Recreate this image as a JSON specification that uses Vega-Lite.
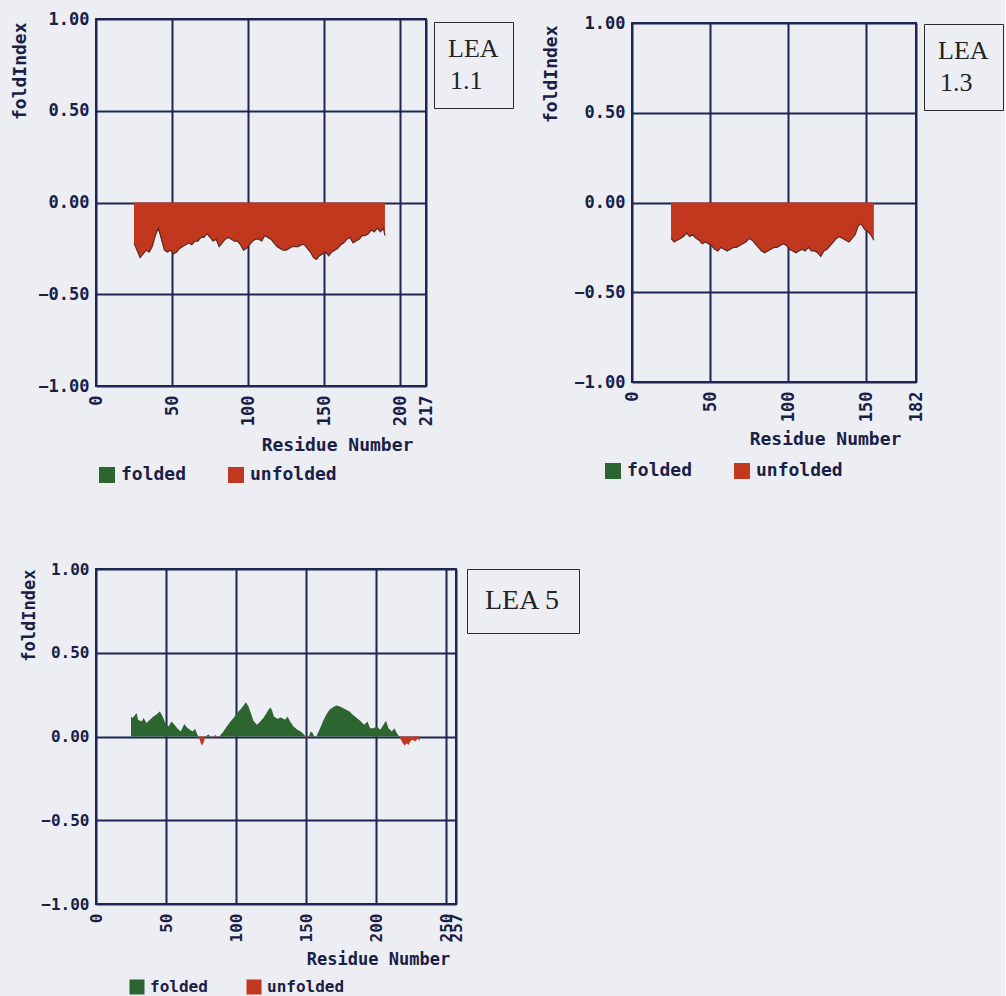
{
  "$schema": "https://vega.github.io/schema/vega-lite/v6.json",
  "padding": {"left": 10, "top": 9, "right": 0, "bottom": 0},
  "datasets": {
    "lea11": [
      {"residue": 25, "foldIndex": -0.22, "state": "unfolded"},
      {"residue": 27, "foldIndex": -0.26, "state": "unfolded"},
      {"residue": 29, "foldIndex": -0.30, "state": "unfolded"},
      {"residue": 31, "foldIndex": -0.28, "state": "unfolded"},
      {"residue": 33, "foldIndex": -0.26, "state": "unfolded"},
      {"residue": 35, "foldIndex": -0.27, "state": "unfolded"},
      {"residue": 37, "foldIndex": -0.24, "state": "unfolded"},
      {"residue": 39, "foldIndex": -0.18, "state": "unfolded"},
      {"residue": 41, "foldIndex": -0.14, "state": "unfolded"},
      {"residue": 43, "foldIndex": -0.20, "state": "unfolded"},
      {"residue": 45, "foldIndex": -0.26, "state": "unfolded"},
      {"residue": 47, "foldIndex": -0.27, "state": "unfolded"},
      {"residue": 49, "foldIndex": -0.26, "state": "unfolded"},
      {"residue": 51, "foldIndex": -0.28, "state": "unfolded"},
      {"residue": 53, "foldIndex": -0.27, "state": "unfolded"},
      {"residue": 55, "foldIndex": -0.25, "state": "unfolded"},
      {"residue": 57, "foldIndex": -0.24, "state": "unfolded"},
      {"residue": 59, "foldIndex": -0.23, "state": "unfolded"},
      {"residue": 61, "foldIndex": -0.22, "state": "unfolded"},
      {"residue": 63, "foldIndex": -0.23, "state": "unfolded"},
      {"residue": 65, "foldIndex": -0.21, "state": "unfolded"},
      {"residue": 67, "foldIndex": -0.21, "state": "unfolded"},
      {"residue": 69, "foldIndex": -0.19, "state": "unfolded"},
      {"residue": 71, "foldIndex": -0.19, "state": "unfolded"},
      {"residue": 73, "foldIndex": -0.17, "state": "unfolded"},
      {"residue": 75, "foldIndex": -0.19, "state": "unfolded"},
      {"residue": 77, "foldIndex": -0.21, "state": "unfolded"},
      {"residue": 79, "foldIndex": -0.20, "state": "unfolded"},
      {"residue": 81, "foldIndex": -0.24, "state": "unfolded"},
      {"residue": 83, "foldIndex": -0.22, "state": "unfolded"},
      {"residue": 85, "foldIndex": -0.20, "state": "unfolded"},
      {"residue": 87, "foldIndex": -0.19, "state": "unfolded"},
      {"residue": 89, "foldIndex": -0.20, "state": "unfolded"},
      {"residue": 91, "foldIndex": -0.21, "state": "unfolded"},
      {"residue": 93, "foldIndex": -0.21, "state": "unfolded"},
      {"residue": 95, "foldIndex": -0.23, "state": "unfolded"},
      {"residue": 97, "foldIndex": -0.26, "state": "unfolded"},
      {"residue": 99, "foldIndex": -0.25, "state": "unfolded"},
      {"residue": 101, "foldIndex": -0.23, "state": "unfolded"},
      {"residue": 103, "foldIndex": -0.21, "state": "unfolded"},
      {"residue": 105, "foldIndex": -0.20, "state": "unfolded"},
      {"residue": 107, "foldIndex": -0.20, "state": "unfolded"},
      {"residue": 109, "foldIndex": -0.21, "state": "unfolded"},
      {"residue": 111, "foldIndex": -0.18, "state": "unfolded"},
      {"residue": 113, "foldIndex": -0.19, "state": "unfolded"},
      {"residue": 115, "foldIndex": -0.20, "state": "unfolded"},
      {"residue": 117, "foldIndex": -0.22, "state": "unfolded"},
      {"residue": 119, "foldIndex": -0.24, "state": "unfolded"},
      {"residue": 121, "foldIndex": -0.25, "state": "unfolded"},
      {"residue": 123, "foldIndex": -0.26, "state": "unfolded"},
      {"residue": 125, "foldIndex": -0.26, "state": "unfolded"},
      {"residue": 127, "foldIndex": -0.25, "state": "unfolded"},
      {"residue": 129, "foldIndex": -0.24, "state": "unfolded"},
      {"residue": 131, "foldIndex": -0.24, "state": "unfolded"},
      {"residue": 133, "foldIndex": -0.24, "state": "unfolded"},
      {"residue": 135, "foldIndex": -0.23, "state": "unfolded"},
      {"residue": 137, "foldIndex": -0.23, "state": "unfolded"},
      {"residue": 139, "foldIndex": -0.25, "state": "unfolded"},
      {"residue": 141, "foldIndex": -0.27, "state": "unfolded"},
      {"residue": 143, "foldIndex": -0.30, "state": "unfolded"},
      {"residue": 145, "foldIndex": -0.31, "state": "unfolded"},
      {"residue": 147, "foldIndex": -0.29, "state": "unfolded"},
      {"residue": 149, "foldIndex": -0.28, "state": "unfolded"},
      {"residue": 151, "foldIndex": -0.27, "state": "unfolded"},
      {"residue": 153, "foldIndex": -0.29, "state": "unfolded"},
      {"residue": 155, "foldIndex": -0.27, "state": "unfolded"},
      {"residue": 157, "foldIndex": -0.26, "state": "unfolded"},
      {"residue": 159, "foldIndex": -0.25, "state": "unfolded"},
      {"residue": 161, "foldIndex": -0.23, "state": "unfolded"},
      {"residue": 163, "foldIndex": -0.22, "state": "unfolded"},
      {"residue": 165, "foldIndex": -0.20, "state": "unfolded"},
      {"residue": 167, "foldIndex": -0.19, "state": "unfolded"},
      {"residue": 169, "foldIndex": -0.22, "state": "unfolded"},
      {"residue": 171, "foldIndex": -0.21, "state": "unfolded"},
      {"residue": 173, "foldIndex": -0.20, "state": "unfolded"},
      {"residue": 175, "foldIndex": -0.18, "state": "unfolded"},
      {"residue": 177, "foldIndex": -0.18, "state": "unfolded"},
      {"residue": 179, "foldIndex": -0.17, "state": "unfolded"},
      {"residue": 181, "foldIndex": -0.15, "state": "unfolded"},
      {"residue": 183, "foldIndex": -0.16, "state": "unfolded"},
      {"residue": 185, "foldIndex": -0.14, "state": "unfolded"},
      {"residue": 187, "foldIndex": -0.16, "state": "unfolded"},
      {"residue": 189, "foldIndex": -0.14, "state": "unfolded"},
      {"residue": 190, "foldIndex": -0.18, "state": "unfolded"}
    ],
    "lea13": [
      {"residue": 25, "foldIndex": -0.20, "state": "unfolded"},
      {"residue": 27, "foldIndex": -0.22, "state": "unfolded"},
      {"residue": 29, "foldIndex": -0.21, "state": "unfolded"},
      {"residue": 31, "foldIndex": -0.20, "state": "unfolded"},
      {"residue": 33, "foldIndex": -0.19, "state": "unfolded"},
      {"residue": 35, "foldIndex": -0.17, "state": "unfolded"},
      {"residue": 37, "foldIndex": -0.19, "state": "unfolded"},
      {"residue": 39, "foldIndex": -0.18, "state": "unfolded"},
      {"residue": 41, "foldIndex": -0.20, "state": "unfolded"},
      {"residue": 43, "foldIndex": -0.21, "state": "unfolded"},
      {"residue": 45, "foldIndex": -0.23, "state": "unfolded"},
      {"residue": 47, "foldIndex": -0.22, "state": "unfolded"},
      {"residue": 49, "foldIndex": -0.23, "state": "unfolded"},
      {"residue": 51, "foldIndex": -0.24, "state": "unfolded"},
      {"residue": 53, "foldIndex": -0.26, "state": "unfolded"},
      {"residue": 55, "foldIndex": -0.27, "state": "unfolded"},
      {"residue": 57, "foldIndex": -0.25, "state": "unfolded"},
      {"residue": 59, "foldIndex": -0.26, "state": "unfolded"},
      {"residue": 61, "foldIndex": -0.27, "state": "unfolded"},
      {"residue": 63, "foldIndex": -0.26, "state": "unfolded"},
      {"residue": 65, "foldIndex": -0.25, "state": "unfolded"},
      {"residue": 67, "foldIndex": -0.25, "state": "unfolded"},
      {"residue": 69, "foldIndex": -0.24, "state": "unfolded"},
      {"residue": 71, "foldIndex": -0.23, "state": "unfolded"},
      {"residue": 73, "foldIndex": -0.22, "state": "unfolded"},
      {"residue": 75, "foldIndex": -0.20, "state": "unfolded"},
      {"residue": 77, "foldIndex": -0.21, "state": "unfolded"},
      {"residue": 79, "foldIndex": -0.23, "state": "unfolded"},
      {"residue": 81, "foldIndex": -0.25, "state": "unfolded"},
      {"residue": 83, "foldIndex": -0.27, "state": "unfolded"},
      {"residue": 85, "foldIndex": -0.28, "state": "unfolded"},
      {"residue": 87, "foldIndex": -0.27, "state": "unfolded"},
      {"residue": 89, "foldIndex": -0.26, "state": "unfolded"},
      {"residue": 91, "foldIndex": -0.25, "state": "unfolded"},
      {"residue": 93, "foldIndex": -0.25, "state": "unfolded"},
      {"residue": 95, "foldIndex": -0.24, "state": "unfolded"},
      {"residue": 97, "foldIndex": -0.23, "state": "unfolded"},
      {"residue": 99, "foldIndex": -0.24, "state": "unfolded"},
      {"residue": 101, "foldIndex": -0.26, "state": "unfolded"},
      {"residue": 103, "foldIndex": -0.27, "state": "unfolded"},
      {"residue": 105, "foldIndex": -0.28, "state": "unfolded"},
      {"residue": 107, "foldIndex": -0.27, "state": "unfolded"},
      {"residue": 109, "foldIndex": -0.26, "state": "unfolded"},
      {"residue": 111, "foldIndex": -0.27, "state": "unfolded"},
      {"residue": 113, "foldIndex": -0.25, "state": "unfolded"},
      {"residue": 115, "foldIndex": -0.27, "state": "unfolded"},
      {"residue": 117, "foldIndex": -0.27, "state": "unfolded"},
      {"residue": 119, "foldIndex": -0.28, "state": "unfolded"},
      {"residue": 121, "foldIndex": -0.30, "state": "unfolded"},
      {"residue": 123, "foldIndex": -0.27, "state": "unfolded"},
      {"residue": 125, "foldIndex": -0.26, "state": "unfolded"},
      {"residue": 127, "foldIndex": -0.24, "state": "unfolded"},
      {"residue": 129, "foldIndex": -0.22, "state": "unfolded"},
      {"residue": 131, "foldIndex": -0.20, "state": "unfolded"},
      {"residue": 133, "foldIndex": -0.19, "state": "unfolded"},
      {"residue": 135, "foldIndex": -0.20, "state": "unfolded"},
      {"residue": 137, "foldIndex": -0.21, "state": "unfolded"},
      {"residue": 139, "foldIndex": -0.22, "state": "unfolded"},
      {"residue": 141, "foldIndex": -0.20, "state": "unfolded"},
      {"residue": 143, "foldIndex": -0.18, "state": "unfolded"},
      {"residue": 145, "foldIndex": -0.13, "state": "unfolded"},
      {"residue": 147, "foldIndex": -0.12, "state": "unfolded"},
      {"residue": 149, "foldIndex": -0.15, "state": "unfolded"},
      {"residue": 151, "foldIndex": -0.16, "state": "unfolded"},
      {"residue": 153, "foldIndex": -0.18, "state": "unfolded"},
      {"residue": 155, "foldIndex": -0.21, "state": "unfolded"}
    ],
    "lea5": [
      {"residue": 25, "foldIndex": 0.12, "state": "folded"},
      {"residue": 26, "foldIndex": 0.11, "state": "folded"},
      {"residue": 28, "foldIndex": 0.13, "state": "folded"},
      {"residue": 29, "foldIndex": 0.14, "state": "folded"},
      {"residue": 30, "foldIndex": 0.10, "state": "folded"},
      {"residue": 32.6, "foldIndex": 0.09, "state": "folded"},
      {"residue": 34, "foldIndex": 0.11, "state": "folded"},
      {"residue": 36, "foldIndex": 0.08, "state": "folded"},
      {"residue": 38.5, "foldIndex": 0.10, "state": "folded"},
      {"residue": 41, "foldIndex": 0.12, "state": "folded"},
      {"residue": 43, "foldIndex": 0.13, "state": "folded"},
      {"residue": 45.5, "foldIndex": 0.15, "state": "folded"},
      {"residue": 47, "foldIndex": 0.13, "state": "folded"},
      {"residue": 48, "foldIndex": 0.11, "state": "folded"},
      {"residue": 50, "foldIndex": 0.07, "state": "folded"},
      {"residue": 51.7, "foldIndex": 0.06, "state": "folded"},
      {"residue": 54, "foldIndex": 0.09, "state": "folded"},
      {"residue": 56, "foldIndex": 0.07, "state": "folded"},
      {"residue": 58, "foldIndex": 0.05, "state": "folded"},
      {"residue": 60.5, "foldIndex": 0.03, "state": "folded"},
      {"residue": 63, "foldIndex": 0.074, "state": "folded"},
      {"residue": 65, "foldIndex": 0.054, "state": "folded"},
      {"residue": 67, "foldIndex": 0.04, "state": "folded"},
      {"residue": 69, "foldIndex": 0.03, "state": "folded"},
      {"residue": 70.7, "foldIndex": 0.046, "state": "folded"},
      {"residue": 72.4, "foldIndex": 0.01, "state": "folded"},
      {"residue": 73.3, "foldIndex": 0, "state": "folded"},
      {"residue": 73.3, "foldIndex": 0, "state": "unfolded"},
      {"residue": 74.8, "foldIndex": -0.04, "state": "unfolded"},
      {"residue": 75.7, "foldIndex": -0.054, "state": "unfolded"},
      {"residue": 77.1, "foldIndex": -0.03, "state": "unfolded"},
      {"residue": 78.1, "foldIndex": 0, "state": "unfolded"},
      {"residue": 78.1, "foldIndex": 0, "state": "folded"},
      {"residue": 80.2, "foldIndex": 0.012, "state": "folded"},
      {"residue": 81.9, "foldIndex": 0, "state": "folded"},
      {"residue": 81.9, "foldIndex": 0, "state": "unfolded"},
      {"residue": 83.3, "foldIndex": -0.012, "state": "unfolded"},
      {"residue": 84.2, "foldIndex": 0, "state": "unfolded"},
      {"residue": 84.2, "foldIndex": 0, "state": "folded"},
      {"residue": 85, "foldIndex": 0.01, "state": "folded"},
      {"residue": 86, "foldIndex": 0, "state": "folded"},
      {"residue": 86, "foldIndex": 0, "state": "unfolded"},
      {"residue": 86.7, "foldIndex": -0.008, "state": "unfolded"},
      {"residue": 88, "foldIndex": 0, "state": "unfolded"},
      {"residue": 88, "foldIndex": 0, "state": "folded"},
      {"residue": 91, "foldIndex": 0.03, "state": "folded"},
      {"residue": 93.3, "foldIndex": 0.06, "state": "folded"},
      {"residue": 96, "foldIndex": 0.09, "state": "folded"},
      {"residue": 99, "foldIndex": 0.12, "state": "folded"},
      {"residue": 101.7, "foldIndex": 0.15, "state": "folded"},
      {"residue": 104, "foldIndex": 0.17, "state": "folded"},
      {"residue": 105.7, "foldIndex": 0.19, "state": "folded"},
      {"residue": 107, "foldIndex": 0.205, "state": "folded"},
      {"residue": 108.8, "foldIndex": 0.18, "state": "folded"},
      {"residue": 110.5, "foldIndex": 0.14, "state": "folded"},
      {"residue": 112.4, "foldIndex": 0.094, "state": "folded"},
      {"residue": 114.8, "foldIndex": 0.07, "state": "folded"},
      {"residue": 117, "foldIndex": 0.086, "state": "folded"},
      {"residue": 119.5, "foldIndex": 0.11, "state": "folded"},
      {"residue": 122.4, "foldIndex": 0.15, "state": "folded"},
      {"residue": 124.3, "foldIndex": 0.173, "state": "folded"},
      {"residue": 125.5, "foldIndex": 0.16, "state": "folded"},
      {"residue": 127, "foldIndex": 0.12, "state": "folded"},
      {"residue": 129.5, "foldIndex": 0.106, "state": "folded"},
      {"residue": 132, "foldIndex": 0.114, "state": "folded"},
      {"residue": 135, "foldIndex": 0.10, "state": "folded"},
      {"residue": 136.7, "foldIndex": 0.12, "state": "folded"},
      {"residue": 138.6, "foldIndex": 0.09, "state": "folded"},
      {"residue": 141, "foldIndex": 0.06, "state": "folded"},
      {"residue": 143.8, "foldIndex": 0.04, "state": "folded"},
      {"residue": 146.2, "foldIndex": 0.03, "state": "folded"},
      {"residue": 148.6, "foldIndex": 0.01, "state": "folded"},
      {"residue": 149.5, "foldIndex": 0, "state": "folded"},
      {"residue": 149.5, "foldIndex": 0, "state": "unfolded"},
      {"residue": 150.5, "foldIndex": -0.012, "state": "unfolded"},
      {"residue": 151.9, "foldIndex": 0, "state": "unfolded"},
      {"residue": 151.9, "foldIndex": 0, "state": "folded"},
      {"residue": 153.3, "foldIndex": 0.03, "state": "folded"},
      {"residue": 154.8, "foldIndex": 0.02, "state": "folded"},
      {"residue": 155.8, "foldIndex": 0, "state": "folded"},
      {"residue": 155.8, "foldIndex": 0, "state": "unfolded"},
      {"residue": 156.4, "foldIndex": -0.008, "state": "unfolded"},
      {"residue": 157.2, "foldIndex": 0, "state": "unfolded"},
      {"residue": 157.2, "foldIndex": 0, "state": "folded"},
      {"residue": 159.5, "foldIndex": 0.04, "state": "folded"},
      {"residue": 162, "foldIndex": 0.09, "state": "folded"},
      {"residue": 164.3, "foldIndex": 0.13, "state": "folded"},
      {"residue": 166.7, "foldIndex": 0.16, "state": "folded"},
      {"residue": 169, "foldIndex": 0.173, "state": "folded"},
      {"residue": 171.4, "foldIndex": 0.185, "state": "folded"},
      {"residue": 173.8, "foldIndex": 0.18, "state": "folded"},
      {"residue": 176.2, "foldIndex": 0.17, "state": "folded"},
      {"residue": 178.6, "foldIndex": 0.16, "state": "folded"},
      {"residue": 181, "foldIndex": 0.15, "state": "folded"},
      {"residue": 183.3, "foldIndex": 0.13, "state": "folded"},
      {"residue": 185.7, "foldIndex": 0.114, "state": "folded"},
      {"residue": 188.6, "foldIndex": 0.094, "state": "folded"},
      {"residue": 191.4, "foldIndex": 0.07, "state": "folded"},
      {"residue": 193.8, "foldIndex": 0.09, "state": "folded"},
      {"residue": 195.7, "foldIndex": 0.05, "state": "folded"},
      {"residue": 198, "foldIndex": 0.05, "state": "folded"},
      {"residue": 200.5, "foldIndex": 0.06, "state": "folded"},
      {"residue": 203, "foldIndex": 0.04, "state": "folded"},
      {"residue": 205.2, "foldIndex": 0.07, "state": "folded"},
      {"residue": 207, "foldIndex": 0.094, "state": "folded"},
      {"residue": 208.8, "foldIndex": 0.05, "state": "folded"},
      {"residue": 211.2, "foldIndex": 0.03, "state": "folded"},
      {"residue": 213, "foldIndex": 0.05, "state": "folded"},
      {"residue": 214.8, "foldIndex": 0.02, "state": "folded"},
      {"residue": 216.5, "foldIndex": 0, "state": "folded"},
      {"residue": 216.5, "foldIndex": 0, "state": "unfolded"},
      {"residue": 218.3, "foldIndex": -0.03, "state": "unfolded"},
      {"residue": 220.2, "foldIndex": -0.054, "state": "unfolded"},
      {"residue": 222, "foldIndex": -0.04, "state": "unfolded"},
      {"residue": 223, "foldIndex": -0.05, "state": "unfolded"},
      {"residue": 224.8, "foldIndex": -0.026, "state": "unfolded"},
      {"residue": 226.2, "foldIndex": -0.02, "state": "unfolded"},
      {"residue": 228, "foldIndex": -0.03, "state": "unfolded"},
      {"residue": 229.5, "foldIndex": -0.014, "state": "unfolded"},
      {"residue": 231, "foldIndex": -0.026, "state": "unfolded"}
    ]
  },
  "columns": 2,
  "concat": [
    {
      "width": 330,
      "height": 367,
      "data": {"name": "lea11"},
      "layer": [
        {
          "mark": {"type": "area"},
          "encoding": {
            "x": {"field": "residue", "type": "quantitative", "scale": {"domain": [0, 217], "nice": false, "zero": false},
              "axis": {"values": [0, 50, 100, 150, 200, 217], "format": "d", "labelAngle": 270, "labelFontSize": 17, "labelPadding": 9,
                "title": "Residue Number", "titleFontSize": 18, "titleX": 241, "titleY": 59, "titleAlign": "center", "titleBaseline": "middle"}},
            "y": {"field": "foldIndex", "type": "quantitative", "stack": null, "scale": {"domain": [-1, 1], "nice": false},
              "axis": {"values": [-1, -0.5, 0, 0.5, 1], "format": ".2f", "labelFontSize": 17, "labelPadding": 7,
                "title": "foldIndex", "titleFontSize": 18, "titleX": -76, "titleY": 3, "titleAlign": "right", "titleBaseline": "middle", "titleAngle": 270}},
            "y2": {"datum": 0},
            "color": {"field": "state", "type": "nominal",
              "scale": {"domain": ["folded", "unfolded"], "range": ["#2d6530", "#c2381f"]},
              "legend": {"orient": "none", "legendX": 2, "legendY": 447, "direction": "horizontal", "title": null, "padding": 0,
                "symbolType": "square", "symbolSize": 256, "symbolStrokeWidth": 0, "labelFont": "DejaVu Sans Mono", "labelFontWeight": "bold",
                "labelFontSize": 18, "labelColor": "#1a2045", "labelOffset": 5, "columnPadding": 40}}
          }
        },
        {
          "mark": {"type": "line", "color": "#5a2a24", "strokeWidth": 1.2},
          "encoding": {
            "x": {"field": "residue", "type": "quantitative"},
            "y": {"field": "foldIndex", "type": "quantitative"}
          }
        },
        {
          "data": {"values": [{"protein": "1.1"}]},
          "mark": {"type": "point", "opacity": 0},
          "encoding": {
            "shape": {"field": "protein", "type": "nominal",
              "legend": {"orient": "none", "legendX": 338, "legendY": 3, "title": "LEA", "padding": 14, "strokeColor": "#2a2a2a",
                "titleFont": "Liberation Serif", "titleFontSize": 26, "titleFontWeight": "normal", "titleColor": "#222222", "titlePadding": 6,
                "labelFont": "Liberation Serif", "labelFontSize": 26, "labelColor": "#222222", "labelOffset": -24,
                "symbolSize": 0, "symbolOpacity": 0, "symbolStrokeWidth": 0}}
          }
        }
      ]
    },
    {
      "width": 284,
      "height": 359,
      "data": {"name": "lea13"},
      "layer": [
        {
          "mark": {"type": "area"},
          "encoding": {
            "x": {"field": "residue", "type": "quantitative", "scale": {"domain": [0, 182], "nice": false, "zero": false},
              "axis": {"values": [0, 50, 100, 150, 182], "format": "d", "labelAngle": 270, "labelFontSize": 17, "labelPadding": 9,
                "title": "Residue Number", "titleFontSize": 18, "titleX": 193, "titleY": 57, "titleAlign": "center", "titleBaseline": "middle"}},
            "y": {"field": "foldIndex", "type": "quantitative", "stack": null, "scale": {"domain": [-1, 1], "nice": false},
              "axis": {"values": [-1, -0.5, 0, 0.5, 1], "format": ".2f", "labelFontSize": 17, "labelPadding": 7,
                "title": "foldIndex", "titleFontSize": 18, "titleX": -81, "titleY": 2, "titleAlign": "right", "titleBaseline": "middle", "titleAngle": 270}},
            "y2": {"datum": 0},
            "color": {"field": "state", "type": "nominal",
              "scale": {"domain": ["folded", "unfolded"], "range": ["#2d6530", "#c2381f"]},
              "legend": {"orient": "none", "legendX": -28, "legendY": 439, "direction": "horizontal", "title": null, "padding": 0,
                "symbolType": "square", "symbolSize": 256, "symbolStrokeWidth": 0, "labelFont": "DejaVu Sans Mono", "labelFontWeight": "bold",
                "labelFontSize": 18, "labelColor": "#1a2045", "labelOffset": 5, "columnPadding": 40}}
          }
        },
        {
          "mark": {"type": "line", "color": "#5a2a24", "strokeWidth": 1.2},
          "encoding": {
            "x": {"field": "residue", "type": "quantitative"},
            "y": {"field": "foldIndex", "type": "quantitative"}
          }
        },
        {
          "data": {"values": [{"protein": "1.3"}]},
          "mark": {"type": "point", "opacity": 0},
          "encoding": {
            "shape": {"field": "protein", "type": "nominal",
              "legend": {"orient": "none", "legendX": 292, "legendY": 1, "title": "LEA", "padding": 14, "strokeColor": "#2a2a2a",
                "titleFont": "Liberation Serif", "titleFontSize": 26, "titleFontWeight": "normal", "titleColor": "#222222", "titlePadding": 6,
                "labelFont": "Liberation Serif", "labelFontSize": 26, "labelColor": "#222222", "labelOffset": -24,
                "symbolSize": 0, "symbolOpacity": 0, "symbolStrokeWidth": 0}}
          }
        }
      ]
    },
    {
      "width": 360,
      "height": 335,
      "data": {"name": "lea5"},
      "layer": [
        {
          "mark": {"type": "area"},
          "encoding": {
            "x": {"field": "residue", "type": "quantitative", "scale": {"domain": [0, 257], "nice": false, "zero": false},
              "axis": {"values": [0, 50, 100, 150, 200, 250, 257], "format": "d", "labelAngle": 270, "labelFontSize": 16, "labelPadding": 9,
                "title": "Residue Number", "titleFontSize": 17, "titleX": 282, "titleY": 55, "titleAlign": "center", "titleBaseline": "middle"}},
            "y": {"field": "foldIndex", "type": "quantitative", "stack": null, "scale": {"domain": [-1, 1], "nice": false},
              "axis": {"values": [-1, -0.5, 0, 0.5, 1], "format": ".2f", "labelFontSize": 16, "labelPadding": 7,
                "title": "foldIndex", "titleFontSize": 17, "titleX": -67, "titleY": 0, "titleAlign": "right", "titleBaseline": "middle", "titleAngle": 270}},
            "y2": {"datum": 0},
            "color": {"field": "state", "type": "nominal",
              "scale": {"domain": ["folded", "unfolded"], "range": ["#2d6530", "#c2381f"]},
              "legend": {"orient": "none", "legendX": 33, "legendY": 410, "direction": "horizontal", "title": null, "padding": 0,
                "symbolType": "square", "symbolSize": 225, "symbolStrokeWidth": 0, "labelFont": "DejaVu Sans Mono", "labelFontWeight": "bold",
                "labelFontSize": 16, "labelColor": "#1a2045", "labelOffset": 5, "columnPadding": 38}}
          }
        },
        {
          "data": {"values": [{"protein": "LEA 5"}]},
          "mark": {"type": "point", "opacity": 0},
          "encoding": {
            "shape": {"field": "protein", "type": "nominal",
              "legend": {"orient": "none", "legendX": 371, "legendY": 0, "title": null, "padding": 18, "strokeColor": "#2a2a2a",
                "labelFont": "Liberation Serif", "labelFontSize": 28, "labelColor": "#222222", "labelOffset": -28,
                "symbolSize": 0, "symbolOpacity": 0, "symbolStrokeWidth": 0}}
          }
        }
      ]
    }
  ],
  "spacing": {"row": 183, "column": 176},
  "align": "each",
  "bounds": "flush",
  "center": {"row": true, "column": false},
  "resolve": {
    "scale": {"x": "independent", "y": "independent", "color": "independent", "shape": "independent"},
    "legend": {"color": "independent", "shape": "independent"},
    "axis": {"x": "independent", "y": "independent"}
  },
  "config": {
    "background": "#eceef4",
    "view": {"stroke": "#1d2552", "strokeWidth": 2},
    "axis": {
      "labelFont": "DejaVu Sans Mono", "labelFontWeight": "bold", "labelColor": "#1a2045",
      "titleFont": "DejaVu Sans Mono", "titleFontWeight": "bold", "titleColor": "#1a2045",
      "ticks": false, "domain": false, "grid": true, "gridColor": "#1d2552", "gridWidth": 2, "gridOpacity": 1,
      "labelOverlap": false, "labelFlush": false, "labelBound": false
    }
  }
}
